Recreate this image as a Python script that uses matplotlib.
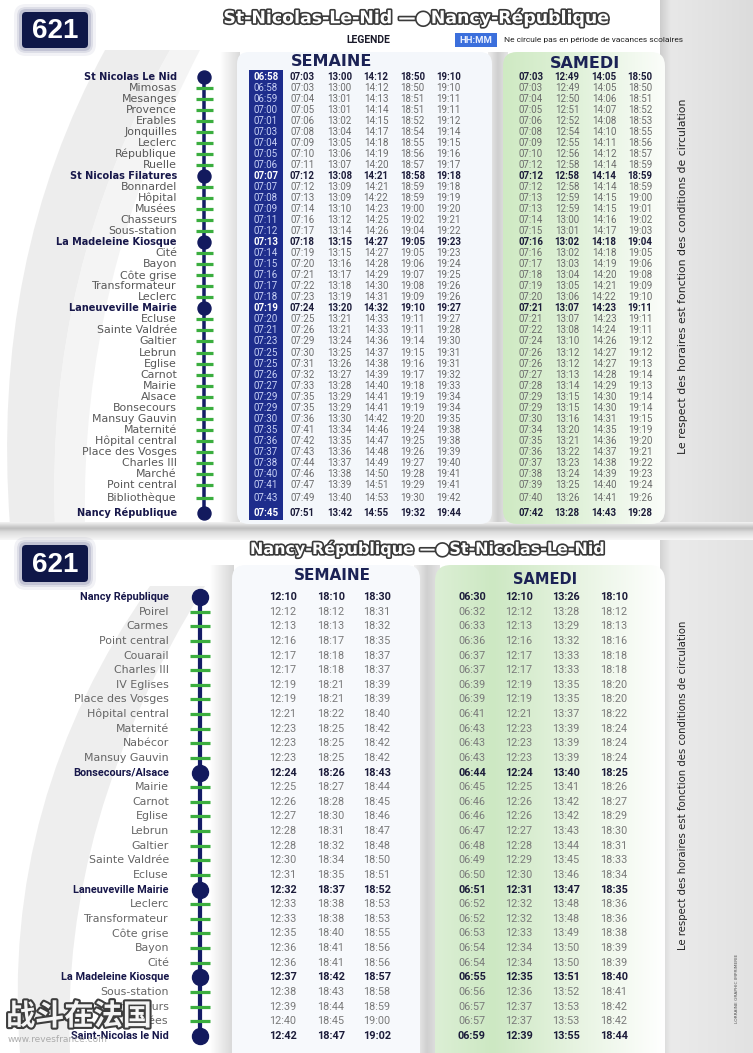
import numpy as np
import matplotlib
matplotlib.use("Agg")
import matplotlib.pyplot as plt
from matplotlib.patches import FancyBboxPatch, Rectangle, PathPatch
from matplotlib.path import Path
from matplotlib.colors import to_rgb
import matplotlib.patheffects as pe
from matplotlib import font_manager as fm

# ---------------------------------------------------------------- data
route_number = "621"
top_title = "St-Nicolas-Le-Nid —●Nancy-République"
bottom_title = "Nancy-République —●St-Nicolas-Le-Nid"
legend_label = "LEGENDE"
legend_key = "HH:MM"
legend_text = "Ne circule pas en période de vacances scolaires"
side_note = "Le respect des horaires est fonction des conditions de circulation"
header_week = "SEMAINE"
header_sat = "SAMEDI"

top_stops = ["St Nicolas Le Nid", "Mimosas", "Mesanges", "Provence", "Erables",
             "Jonquilles", "Leclerc", "République", "Ruelle", "St Nicolas Filatures",
             "Bonnardel", "Hôpital", "Musées", "Chasseurs", "Sous-station",
             "La Madeleine Kiosque", "Cité", "Bayon", "Côte grise", "Transformateur",
             "Leclerc", "Laneuveville Mairie", "Ecluse", "Sainte Valdrée", "Galtier",
             "Lebrun", "Eglise", "Carnot", "Mairie", "Alsace",
             "Bonsecours", "Mansuy Gauvin", "Maternité", "Hôpital central", "Place des Vosges",
             "Charles III", "Marché", "Point central", "Bibliothèque", "Nancy République"]
top_major = [0, 9, 15, 21, 39]

top_week_1 = ["06:58", "06:58", "06:59", "07:00", "07:01", "07:03", "07:04", "07:05", "07:06", "07:07",
              "07:07", "07:08", "07:09", "07:11", "07:12", "07:13", "07:14", "07:15", "07:16", "07:17",
              "07:18", "07:19", "07:20", "07:21", "07:23", "07:25", "07:25", "07:26", "07:27", "07:29",
              "07:29", "07:30", "07:35", "07:36", "07:37", "07:38", "07:40", "07:41", "07:43", "07:45"]
top_week_2 = ["07:03", "07:03", "07:04", "07:05", "07:06", "07:08", "07:09", "07:10", "07:11", "07:12",
              "07:12", "07:13", "07:14", "07:16", "07:17", "07:18", "07:19", "07:20", "07:21", "07:22",
              "07:23", "07:24", "07:25", "07:26", "07:29", "07:30", "07:31", "07:32", "07:33", "07:35",
              "07:35", "07:36", "07:41", "07:42", "07:43", "07:44", "07:46", "07:47", "07:49", "07:51"]
top_week_3 = ["13:00", "13:00", "13:01", "13:01", "13:02", "13:04", "13:05", "13:06", "13:07", "13:08",
              "13:09", "13:09", "13:10", "13:12", "13:14", "13:15", "13:15", "13:16", "13:17", "13:18",
              "13:19", "13:20", "13:21", "13:21", "13:24", "13:25", "13:26", "13:27", "13:28", "13:29",
              "13:29", "13:30", "13:34", "13:35", "13:36", "13:37", "13:38", "13:39", "13:40", "13:42"]
top_week_4 = ["14:12", "14:12", "14:13", "14:14", "14:15", "14:17", "14:18", "14:19", "14:20", "14:21",
              "14:21", "14:22", "14:23", "14:25", "14:26", "14:27", "14:27", "14:28", "14:29", "14:30",
              "14:31", "14:32", "14:33", "14:33", "14:36", "14:37", "14:38", "14:39", "14:40", "14:41",
              "14:41", "14:42", "14:46", "14:47", "14:48", "14:49", "14:50", "14:51", "14:53", "14:55"]
top_week_5 = ["18:50", "18:50", "18:51", "18:51", "18:52", "18:54", "18:55", "18:56", "18:57", "18:58",
              "18:59", "18:59", "19:00", "19:02", "19:04", "19:05", "19:05", "19:06", "19:07", "19:08",
              "19:09", "19:10", "19:11", "19:11", "19:14", "19:15", "19:16", "19:17", "19:18", "19:19",
              "19:19", "19:20", "19:24", "19:25", "19:26", "19:27", "19:28", "19:29", "19:30", "19:32"]
top_week_6 = ["19:10", "19:10", "19:11", "19:11", "19:12", "19:14", "19:15", "19:16", "19:17", "19:18",
              "19:18", "19:19", "19:20", "19:21", "19:22", "19:23", "19:23", "19:24", "19:25", "19:26",
              "19:26", "19:27", "19:27", "19:28", "19:30", "19:31", "19:31", "19:32", "19:33", "19:34",
              "19:34", "19:35", "19:38", "19:38", "19:39", "19:40", "19:41", "19:41", "19:42", "19:44"]
top_sat_1 = ["07:03", "07:03", "07:04", "07:05", "07:06", "07:08", "07:09", "07:10", "07:12", "07:12",
             "07:12", "07:13", "07:13", "07:14", "07:15", "07:16", "07:16", "07:17", "07:18", "07:19",
             "07:20", "07:21", "07:21", "07:22", "07:24", "07:26", "07:26", "07:27", "07:28", "07:29",
             "07:29", "07:30", "07:34", "07:35", "07:36", "07:37", "07:38", "07:39", "07:40", "07:42"]
top_sat_2 = ["12:49", "12:49", "12:50", "12:51", "12:52", "12:54", "12:55", "12:56", "12:58", "12:58",
             "12:58", "12:59", "12:59", "13:00", "13:01", "13:02", "13:02", "13:03", "13:04", "13:05",
             "13:06", "13:07", "13:07", "13:08", "13:10", "13:12", "13:12", "13:13", "13:14", "13:15",
             "13:15", "13:16", "13:20", "13:21", "13:22", "13:23", "13:24", "13:25", "13:26", "13:28"]
top_sat_3 = ["14:05", "14:05", "14:06", "14:07", "14:08", "14:10", "14:11", "14:12", "14:14", "14:14",
             "14:14", "14:15", "14:15", "14:16", "14:17", "14:18", "14:18", "14:19", "14:20", "14:21",
             "14:22", "14:23", "14:23", "14:24", "14:26", "14:27", "14:27", "14:28", "14:29", "14:30",
             "14:30", "14:31", "14:35", "14:36", "14:37", "14:38", "14:39", "14:40", "14:41", "14:43"]
top_sat_4 = ["18:50", "18:50", "18:51", "18:52", "18:53", "18:55", "18:56", "18:57", "18:59", "18:59",
             "18:59", "19:00", "19:01", "19:02", "19:03", "19:04", "19:05", "19:06", "19:08", "19:09",
             "19:10", "19:11", "19:11", "19:11", "19:12", "19:12", "19:13", "19:14", "19:13", "19:14",
             "19:14", "19:15", "19:19", "19:20", "19:21", "19:22", "19:23", "19:24", "19:26", "19:28"]

bot_stops = ["Nancy République", "Poirel", "Carmes", "Point central", "Couarail",
             "Charles III", "IV Eglises", "Place des Vosges", "Hôpital central", "Maternité",
             "Nabécor", "Mansuy Gauvin", "Bonsecours/Alsace", "Mairie", "Carnot",
             "Eglise", "Lebrun", "Galtier", "Sainte Valdrée", "Ecluse",
             "Laneuveville Mairie", "Leclerc", "Transformateur", "Côte grise", "Bayon",
             "Cité", "La Madeleine Kiosque", "Sous-station", "Chasseurs", "Musées",
             "Saint-Nicolas le Nid"]
bot_major = [0, 12, 20, 26, 30]

bot_week_1 = ["12:10", "12:12", "12:13", "12:16", "12:17", "12:17", "12:19", "12:19", "12:21", "12:23",
              "12:23", "12:23", "12:24", "12:25", "12:26", "12:27", "12:28", "12:28", "12:30", "12:31",
              "12:32", "12:33", "12:33", "12:35", "12:36", "12:36", "12:37", "12:38", "12:39", "12:40", "12:42"]
bot_week_2 = ["18:10", "18:12", "18:13", "18:17", "18:18", "18:18", "18:21", "18:21", "18:22", "18:25",
              "18:25", "18:25", "18:26", "18:27", "18:28", "18:30", "18:31", "18:32", "18:34", "18:35",
              "18:37", "18:38", "18:38", "18:40", "18:41", "18:41", "18:42", "18:43", "18:44", "18:45", "18:47"]
bot_week_3 = ["18:30", "18:31", "18:32", "18:35", "18:37", "18:37", "18:39", "18:39", "18:40", "18:42",
              "18:42", "18:42", "18:43", "18:44", "18:45", "18:46", "18:47", "18:48", "18:50", "18:51",
              "18:52", "18:53", "18:53", "18:55", "18:56", "18:56", "18:57", "18:58", "18:59", "19:00", "19:02"]
bot_sat_1 = ["06:30", "06:32", "06:33", "06:36", "06:37", "06:37", "06:39", "06:39", "06:41", "06:43",
             "06:43", "06:43", "06:44", "06:45", "06:46", "06:46", "06:47", "06:48", "06:49", "06:50",
             "06:51", "06:52", "06:52", "06:53", "06:54", "06:54", "06:55", "06:56", "06:57", "06:57", "06:59"]
bot_sat_2 = ["12:10", "12:12", "12:13", "12:16", "12:17", "12:17", "12:19", "12:19", "12:21", "12:23",
             "12:23", "12:23", "12:24", "12:25", "12:26", "12:26", "12:27", "12:28", "12:29", "12:30",
             "12:31", "12:32", "12:32", "12:33", "12:34", "12:34", "12:35", "12:36", "12:37", "12:37", "12:39"]
bot_sat_3 = ["13:26", "13:28", "13:29", "13:32", "13:33", "13:33", "13:35", "13:35", "13:37", "13:39",
             "13:39", "13:39", "13:40", "13:41", "13:42", "13:42", "13:43", "13:44", "13:45", "13:46",
             "13:47", "13:48", "13:48", "13:49", "13:50", "13:50", "13:51", "13:52", "13:53", "13:53", "13:55"]
bot_sat_4 = ["18:10", "18:12", "18:13", "18:16", "18:18", "18:18", "18:20", "18:20", "18:22", "18:24",
             "18:24", "18:24", "18:25", "18:26", "18:27", "18:29", "18:30", "18:31", "18:33", "18:34",
             "18:35", "18:36", "18:36", "18:38", "18:39", "18:39", "18:40", "18:41", "18:42", "18:42", "18:44"]

watermark = "战斗在法国"
watermark_url = "www.revesfrance.com"
printer = "LORRAINE GRAPHIC IMPRIMERIE"

# ---------------------------------------------------------------- setup
W, H = 753, 1053
PT = 72.0 / 100.0          # points per pixel
fig = plt.figure(figsize=(W / 100, H / 100), dpi=100)
fig.patch.set_facecolor("white")

avail = {f.name for f in fm.fontManager.ttflist}
NARROW = "Liberation Sans Narrow" in avail
NUM_FONT = "Liberation Sans Narrow" if NARROW else "Roboto"
NUM_TOP = 8.4 if NARROW else 7.0
NUM_BOT = 9.2 if NARROW else 7.8
BOT_BOLD = 9.3 if NARROW else 7.8
NAME_FONT = "DejaVu Sans"

NAVY = "#141c66"
GREEN = "#3bae3f"
DARKCOL = "#1e2d8c"

bg = fig.add_axes([0, 0, 1, 1], zorder=0)
bg.set_axis_off()


def grad_img(stops, n=256):
    xs = np.linspace(0, 1, n)
    pos = np.array([p for p, _ in stops])
    cols = np.array([to_rgb(c) for _, c in stops])
    return np.stack([np.interp(xs, pos, cols[:, k]) for k in range(3)], axis=-1)


def hgrad(ax, x0, x1, y0, y1, stops, clip=None, z=0):
    img = grad_img(stops)[None, :, :]
    im = ax.imshow(img, extent=(x0, x1, y1, y0), aspect="auto", zorder=z,
                   interpolation="bilinear")
    if clip is not None:
        im.set_clip_path(clip)
    return im


def vgrad(ax, x0, x1, y0, y1, stops, z=0):
    img = grad_img(stops)[:, None, :]
    return ax.imshow(img, extent=(x0, x1, y1, y0), aspect="auto", zorder=z,
                     interpolation="bilinear", origin="upper")


def crescent(ax, o0, oc, o1, i0, ic, i1, color, alpha, z=0.5):
    verts = [o0, oc, o1, i0, ic, i1, o0]
    codes = [Path.MOVETO, Path.CURVE3, Path.CURVE3, Path.LINETO,
             Path.CURVE3, Path.CURVE3, Path.CLOSEPOLY]
    ax.add_patch(PathPatch(Path(verts, codes), fc=color, ec="none", alpha=alpha, zorder=z))


# ---------------------------------------------------------------- backgrounds
# top half
hgrad(bg, 660, W, 0, 526, [(0, "#cdcdcd"), (0.12, "#e8e8e8"), (1, "#dcdcdc")])
hgrad(bg, 488, 508, 52, 526, [(0, "#eeeeee"), (0.5, "#cfcfcf"), (1, "#e6e6e6")])
hgrad(bg, 220, 240, 52, 526, [(0, "#ffffff"), (1, "#dadada")])
crescent(bg, (105, 50), (-10, 260), (10, 526), (55, 526), (45, 270), (170, 50), "#e2e2e2", 0.6)
crescent(bg, (170, 50), (45, 270), (55, 526), (85, 526), (80, 280), (200, 50), "#f0f0f0", 0.7)

p_week_top = FancyBboxPatch((237, 52), 255, 472, boxstyle="round,pad=0,rounding_size=12",
                            fc="#f4f7fb", ec="none", zorder=1)
bg.add_patch(p_week_top)
p_sat_top = FancyBboxPatch((503, 52), 162, 472, boxstyle="round,pad=0,rounding_size=14",
                           fc="none", ec="none", zorder=1)
bg.add_patch(p_sat_top)
hgrad(bg, 503, 665, 52, 524, [(0, "#cfeac3"), (0.45, "#e0f1d9"), (1, "#fbfdfa")],
      clip=p_sat_top, z=1)

# fold between halves
vgrad(bg, 0, W, 522, 540, [(0, "#f4f4f4"), (0.35, "#bdbdbd"), (0.55, "#dcdcdc"), (1, "#f7f7f7")], z=0.6)

# bottom half
hgrad(bg, 660, W, 540, H, [(0, "#d3d3d3"), (0.12, "#ebebeb"), (1, "#e2e2e2")])
hgrad(bg, 414, 440, 565, H, [(0, "#f2f2f2"), (0.5, "#d0d0d0"), (1, "#e4e4e4")])
hgrad(bg, 210, 234, 565, H, [(0, "#ffffff"), (1, "#d6d6d6")])
crescent(bg, (150, 586), (0, 800), (20, H), (70, H), (60, 820), (205, 586), "#e3e3e3", 0.6)

p_week_bot = FancyBboxPatch((232, 565), 188, 520, boxstyle="round,pad=0,rounding_size=14",
                            fc="#f7f9fc", ec="none", zorder=1)
bg.add_patch(p_week_bot)
p_sat_bot = FancyBboxPatch((435, 565), 230, 520, boxstyle="round,pad=0,rounding_size=16",
                           fc="none", ec="none", zorder=1)
bg.add_patch(p_sat_bot)
hgrad(bg, 435, 665, 565, H, [(0, "#dcefd5"), (0.25, "#cde8c3"), (0.6, "#e6f3e0"), (1, "#ffffff")],
      clip=p_sat_bot, z=1)

# route number boxes
for (x0, y0, y1) in [(22, 12, 48), (22, 545, 582)]:
    for k, a in [(8, 0.06), (5, 0.1), (3, 0.15)]:
        bg.add_patch(FancyBboxPatch((x0 - k, y0 - k), 66 + 2 * k, (y1 - y0) + 2 * k,
                                    boxstyle="round,pad=0,rounding_size=%d" % (4 + k),
                                    fc="#2a2f6a", ec="none", alpha=a, zorder=2))
    bg.add_patch(FancyBboxPatch((x0, y0), 66, y1 - y0, boxstyle="round,pad=0,rounding_size=4",
                                fc="#0f1748", ec="none", zorder=2.1))
    bg.text(x0 + 33, (y0 + y1) / 2 + 1, route_number, ha="center", va="center",
            color="white", fontsize=20, fontweight="bold", family="Liberation Sans", zorder=3)

outline = [pe.withStroke(linewidth=2.4, foreground="#3a3a3a")]
bg.text(417, 18, top_title, ha="center", va="center", color="white", fontsize=12.5,
        fontweight="bold", family="DejaVu Sans", path_effects=outline, zorder=3)
bg.text(428, 549, bottom_title, ha="center", va="center", color="white", fontsize=11.5,
        fontweight="bold", family="DejaVu Sans", path_effects=outline, zorder=3)

# legend
bg.text(368, 40, legend_label, ha="center", va="center", color="#1a1a2a", fontsize=7.5,
        fontweight="bold", family=NUM_FONT, zorder=3)
bg.add_patch(Rectangle((455, 33), 42, 14, fc="#3b6fdc", ec="none", zorder=3))
bg.text(476, 40.3, legend_key, ha="center", va="center", color="#e8eeff", fontsize=6.8,
        fontweight="bold", family=NUM_FONT, zorder=4)
bg.text(504, 40.3, legend_text, ha="left", va="center", color="#222222", fontsize=6.0,
        family=NUM_FONT, zorder=3)

# headers
bg.text(332, 62, header_week, ha="center", va="center", color="#1b2255", fontsize=11.5,
        fontweight="bold", family="DejaVu Sans", zorder=3)
bg.text(585, 63, header_sat, ha="center", va="center", color="#1b2255", fontsize=11.5,
        fontweight="bold", family="DejaVu Sans", zorder=3)
bg.text(332, 576, header_week, ha="center", va="center", color="#1b2255", fontsize=11,
        fontweight="bold", family="DejaVu Sans", zorder=3)
bg.text(545, 579, header_sat, ha="center", va="center", color="#1b2255", fontsize=10.5,
        fontweight="bold", family="DejaVu Sans", zorder=3)

# side notes
bg.text(683, 276, side_note, rotation=90, ha="center", va="center", color="#222222",
        fontsize=7.8, family="DejaVu Sans", zorder=3)
bg.text(683, 785, side_note, rotation=90, ha="center", va="center", color="#222222",
        fontsize=7.3, family="DejaVu Sans", zorder=3)
bg.text(737, 988, printer, rotation=90, ha="center", va="center", color="#555555",
        fontsize=3.2, family="DejaVu Sans", zorder=3)

bg.set_xlim(0, W)
bg.set_ylim(H, 0)


# ---------------------------------------------------------------- tables
def table_axes(py_top, py_bot, y0, dy):
    ax = fig.add_axes([0, 1 - py_bot / H, 1, (py_bot - py_top) / H], zorder=2)
    ax.set_axis_off()
    ax.patch.set_alpha(0)
    ax.set_xlim(0, W)
    ax.set_ylim((py_bot - y0) / dy, (py_top - y0) / dy)
    return ax


def draw_table(ax, stops, major, rowpos, cols, col_x, name_x, line_x, num_size,
               name_size, bold_size, bold_family, circle_px, tick_px, line_px,
               name_grey, minor_grey, dark_first=False):
    n = len(stops)
    is_major = np.zeros(n, bool)
    is_major[major] = True
    # route line
    ax.plot([line_x, line_x], [rowpos[0], rowpos[-1]], color=NAVY, lw=line_px * PT,
            solid_capstyle="butt", zorder=3)
    minor_idx = np.where(~is_major)[0]
    ax.plot(np.full(len(minor_idx), line_x), rowpos[minor_idx], ls="none", marker="_",
            ms=tick_px * PT, mew=3.2 * PT, color=GREEN, zorder=4)
    ax.plot(np.full(len(major), line_x), rowpos[major], ls="none", marker="o",
            ms=circle_px * PT, mfc="#131a5e", mec="#131a5e", zorder=5)
    # stop names
    for i, s in enumerate(stops):
        if is_major[i]:
            ax.text(name_x, rowpos[i], s, ha="right", va="center", fontsize=bold_size,
                    fontweight="bold", color="#17174a", family=bold_family, zorder=4)
        else:
            ax.text(name_x, rowpos[i], s, ha="right", va="center", fontsize=name_size,
                    color=name_grey, family=NAME_FONT, zorder=4)
    # times
    for c, (vals, x) in enumerate(zip(cols, col_x)):
        dark = dark_first and c == 0
        if dark:
            ax.add_patch(Rectangle((x - 17, rowpos[0] - 0.65), 34, rowpos[-1] - rowpos[0] + 1.3,
                                   fc=DARKCOL, ec="none", zorder=2))
        for i, v in enumerate(vals):
            if is_major[i]:
                col = "white" if dark else "#1c1c3a"
                ax.text(x, rowpos[i], v, ha="center", va="center", fontsize=num_size,
                        fontweight="bold", color=col, family=NUM_FONT, zorder=4)
            else:
                col = "#c9d2f6" if dark else minor_grey
                ax.text(x, rowpos[i], v, ha="center", va="center", fontsize=num_size,
                        color=col, family=NUM_FONT, zorder=4)


TOP_Y0, TOP_DY = 77.0, 11.02
top_rowpos = np.arange(len(top_stops), dtype=float)
top_rowpos[-2:] += np.array([0.2, 0.55])
ax_top = table_axes(0, 528, TOP_Y0, TOP_DY)
draw_table(ax_top, top_stops, top_major, top_rowpos,
           [top_week_1, top_week_2, top_week_3, top_week_4, top_week_5, top_week_6,
            top_sat_1, top_sat_2, top_sat_3, top_sat_4],
           [266, 302.5, 339.5, 376, 412.5, 448.5, 531, 567, 604, 640],
           177, 204, NUM_TOP, 7.9, 7.0, NAME_FONT, 13, 17, 3.5, "#585858", "#6c6c6c",
           dark_first=True)

BOT_Y0, BOT_DY = 597.0, 14.63
bot_rowpos = np.arange(len(bot_stops), dtype=float)
ax_bot = table_axes(530, H, BOT_Y0, BOT_DY)
draw_table(ax_bot, bot_stops, bot_major, bot_rowpos,
           [bot_week_1, bot_week_2, bot_week_3, bot_sat_1, bot_sat_2, bot_sat_3, bot_sat_4],
           [283, 331, 377, 472, 519, 566, 614],
           169, 200, NUM_BOT, 7.9, BOT_BOLD, NUM_FONT, 16, 20, 4.2, "#666666", "#7a7a7a")

# watermark
wm = fig.add_axes([0, 0, 1, 1], zorder=5)
wm.set_axis_off()
wm.patch.set_alpha(0)
wm.set_xlim(0, W)
wm.set_ylim(H, 0)
wm.text(6, 1016, watermark, ha="left", va="center", fontsize=21, fontweight="bold",
        color="white", family=["Noto Sans CJK SC", "DejaVu Sans"],
        path_effects=[pe.withStroke(linewidth=3, foreground="#333333")], alpha=0.95)
wm.text(8, 1040, watermark_url, ha="left", va="center", fontsize=6.5,
        color="#9a9a9a", family="DejaVu Sans", alpha=0.8)

fig.savefig("out.png", dpi=100, facecolor="white")
